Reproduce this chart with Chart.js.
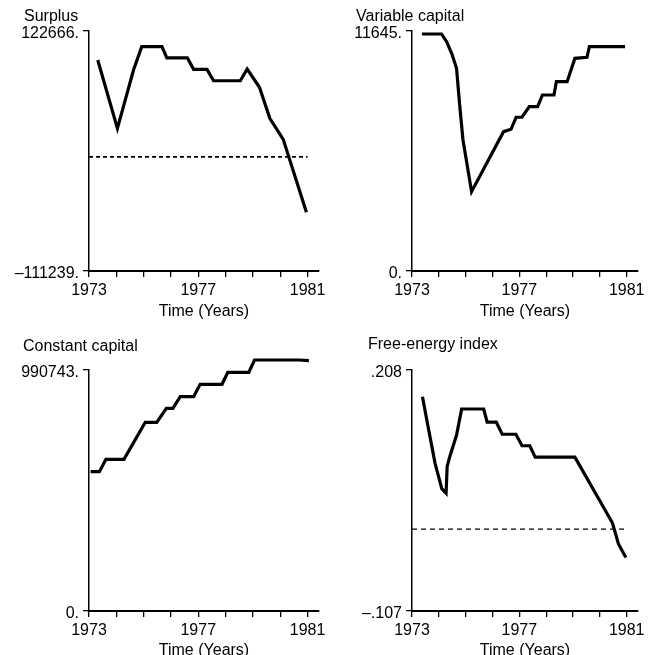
<!DOCTYPE html>
<html>
<head>
<meta charset="utf-8">
<script src="https://cdn.jsdelivr.net/npm/chart.js@4"></script>
<style>
  html, body { margin: 0; padding: 0; background: #fff; overflow: hidden; }
  .panel { position: absolute; }
</style>
</head>
<body>
<div class="panel" style="left:0;top:0;width:331px;height:325px"><canvas id="surplus"></canvas></div>
<div class="panel" style="left:325px;top:0;width:324px;height:325px"><canvas id="variable"></canvas></div>
<div class="panel" style="left:0;top:325px;width:331px;height:345px"><canvas id="constant"></canvas></div>
<div class="panel" style="left:325px;top:325px;width:324px;height:345px"><canvas id="energy"></canvas></div>
<script>
// data
const yearTicks = [1973, 1974, 1975, 1976, 1977, 1978, 1979, 1980, 1981];
const yearLabels = ['1973', '', '', '', '1977', '', '', '', '1981'];

const surplusYears = [1973.32, 1974.04, 1974.63, 1974.93, 1975.67, 1975.85, 1976.6, 1976.83, 1977.32, 1977.56, 1978.54, 1978.79, 1979.24, 1979.62, 1980.11, 1980.96];
const surplusValues = [94400, 27800, 84700, 107400, 107400, 96500, 96500, 85300, 85300, 74200, 74200, 85600, 67800, 37600, 17100, -54000];
const surplusRange = [-111239, 122666];
const surplusTickLabels = ['\u2013111239.', '122666.'];

const variableYears = [1973.37, 1974.1, 1974.29, 1974.48, 1974.66, 1974.78, 1974.9, 1975.22, 1976.41, 1976.69, 1976.88, 1977.1, 1977.37, 1977.68, 1977.86, 1978.29, 1978.38, 1978.78, 1979.07, 1979.52, 1979.61, 1980.94];
const variableValues = [11500, 11500, 11125, 10550, 9835, 8000, 6355, 3850, 6760, 6875, 7460, 7460, 7980, 7980, 8540, 8540, 9185, 9185, 10320, 10370, 10885, 10885];
const variableRange = [0, 11645];
const variableTickLabels = ['0.', '11645.'];

const constantYears = [1973.06, 1973.38, 1973.62, 1974.28, 1975.06, 1975.48, 1975.83, 1976.07, 1976.34, 1976.83, 1977.07, 1977.87, 1978.08, 1978.85, 1979.06, 1980.68, 1981.05];
const constantValues = [572700, 572700, 623600, 623600, 775700, 775700, 833300, 833300, 881000, 881000, 931900, 931900, 981300, 981300, 1031800, 1031800, 1029000];
const constantRange = [0, 990743];
const constantTickLabels = ['0.', '990743.'];

const energyYears = [1973.39, 1973.55, 1973.86, 1974.11, 1974.27, 1974.31, 1974.41, 1974.66, 1974.85, 1975.67, 1975.8, 1976.14, 1976.36, 1976.87, 1977.1, 1977.39, 1977.59, 1979.07, 1980.47, 1980.69, 1980.81, 1980.97];
const energyValues = [0.173, 0.143, 0.086, 0.053, 0.047, 0.082, 0.095, 0.123, 0.157, 0.157, 0.140, 0.140, 0.124, 0.124, 0.109, 0.109, 0.094, 0.094, 0.008, -0.019, -0.027, -0.037];
const energyRange = [-0.107, 0.208];
const energyTickLabels = ['\u2013.107', '.208'];

const zeroYears = [1973, 1981];
const zeroValues = [0, 0];

const FONT = { family: '"Liberation Sans", Arial, Helvetica, sans-serif', size: 16, lineHeight: 1.2 };

function toPoints(xs, ys) {
    return xs.map((x, i) => ({ x: x, y: ys[i] }));
}

function makePanel(id, cfg) {
    const datasets = [{
        data: toPoints(cfg.years, cfg.values),
        borderColor: '#000',
        borderWidth: 3.2,
        pointRadius: 0,
        tension: 0,
        clip: false
    }];
    if (cfg.zeroLine) {
        datasets.push({
            data: toPoints(zeroYears, zeroValues),
            borderColor: '#000',
            borderWidth: cfg.dashWidth,
            borderDash: cfg.dash,
            pointRadius: 0
        });
    }
    // the panel title starts further right than the y tick labels
    const titleShift = {
        id: 'titleShift',
        afterLayout: chart => { chart.titleBlock.left = cfg.titleX; }
    };
    new Chart(document.getElementById(id), {
        type: 'line',
        data: { datasets: datasets },
        plugins: [titleShift],
        options: {
            responsive: true,
            maintainAspectRatio: false,
            animation: false,
            events: [],
            layout: { padding: { left: 0, right: cfg.padRight, top: 0, bottom: 0 } },
            plugins: {
                legend: { display: false },
                tooltip: { enabled: false },
                title: {
                    display: true,
                    text: cfg.title,
                    align: 'start',
                    color: '#000',
                    font: Object.assign({ weight: 'normal' }, FONT),
                    padding: { top: cfg.titleTop, bottom: cfg.titleBottom }
                }
            },
            scales: {
                x: {
                    type: 'linear',
                    min: 1973,
                    max: 1981.42,
                    afterBuildTicks: s => { s.ticks = yearTicks.map(v => ({ value: v })); },
                    afterFit: s => { s.height = cfg.xHeight; },
                    ticks: {
                        color: '#000',
                        font: FONT,
                        padding: 4,
                        maxRotation: 0,
                        autoSkip: false,
                        callback: (v, i) => yearLabels[i]
                    },
                    grid: { drawOnChartArea: false, tickLength: 6, color: '#000', lineWidth: 1.3 },
                    border: { display: true, color: '#000', width: 2 },
                    title: {
                        display: true,
                        text: 'Time (Years)',
                        color: '#000',
                        font: FONT,
                        padding: { top: 0, bottom: cfg.xTitleBottom }
                    }
                },
                y: {
                    min: cfg.range[0],
                    max: cfg.range[1],
                    afterBuildTicks: s => { s.ticks = cfg.range.map(v => ({ value: v })); },
                    afterFit: s => { s.width = cfg.yWidth; },
                    ticks: {
                        color: '#000',
                        font: FONT,
                        padding: 4,
                        labelOffset: 3,
                        callback: (v, i) => cfg.tickLabels[i]
                    },
                    grid: { drawOnChartArea: false, tickLength: 6, color: '#000', lineWidth: 1.3 },
                    border: { display: true, color: '#000', width: 1.5 }
                }
            }
        }
    });
}

makePanel('surplus', {
    title: 'Surplus', years: surplusYears, values: surplusValues,
    range: surplusRange, tickLabels: surplusTickLabels,
    zeroLine: true, dash: [4, 3], dashWidth: 1.6,
    titleX: 24, padRight: 12, yWidth: 89,
    titleTop: 7.4, titleBottom: 4.4, xHeight: 54, xTitleBottom: 3.4
});
makePanel('variable', {
    title: 'Variable capital', years: variableYears, values: variableValues,
    range: variableRange, tickLabels: variableTickLabels,
    zeroLine: false,
    titleX: 31, padRight: 10, yWidth: 87,
    titleTop: 7.4, titleBottom: 4.4, xHeight: 54, xTitleBottom: 3.4
});
makePanel('constant', {
    title: 'Constant capital', years: constantYears, values: constantValues,
    range: constantRange, tickLabels: constantTickLabels,
    zeroLine: false,
    titleX: 23, padRight: 12, yWidth: 89,
    titleTop: 12.4, titleBottom: 13.4, xHeight: 59, xTitleBottom: 9.4
});
makePanel('energy', {
    title: 'Free-energy index', years: energyYears, values: energyValues,
    range: energyRange, tickLabels: energyTickLabels,
    zeroLine: true, dash: [5, 4], dashWidth: 1.3,
    titleX: 43, padRight: 10, yWidth: 87,
    titleTop: 10.4, titleBottom: 15.4, xHeight: 59, xTitleBottom: 9.4
});
</script>
</body>
</html>
